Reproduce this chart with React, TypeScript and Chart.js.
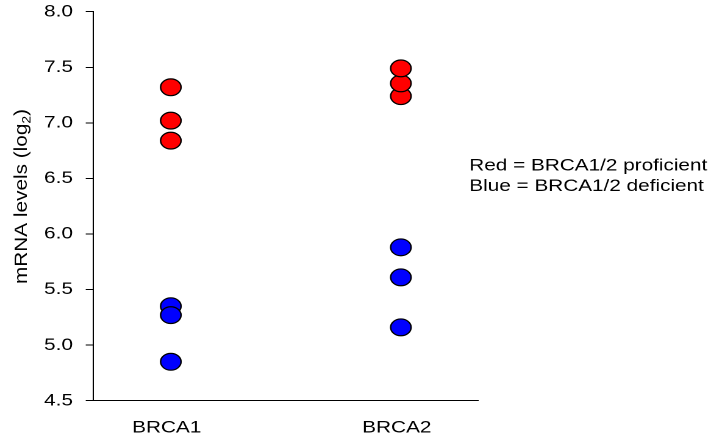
import React, { useEffect, useRef } from "react";
import { Chart, registerables } from "chart.js";

Chart.register(...registerables);

// ---- data ----
const categories = ["BRCA1", "BRCA2"];
const proficientBRCA1 = [7.32, 7.02, 6.84];
const proficientBRCA2 = [7.24, 7.355, 7.49];
const deficientBRCA1 = [5.35, 5.27, 4.85];
const deficientBRCA2 = [5.88, 5.61, 5.16];
const yMin = 4.5;
const yMax = 8.0;
const yStep = 0.5;
const yTitleMain = "mRNA levels (log";
const yTitleSub = "2";
const yTitleEnd = ")";
const legendLines = ["Red = BRCA1/2 proficient", "Blue = BRCA1/2 deficient"];

// ---- layout (internal canvas units; the canvas is stretched horizontally) ----
const OUT_W = 711;
const OUT_H = 444;
const IN_W = 583;
const STRETCH = OUT_W / IN_W;
const FONT = '"Liberation Sans", Arial, sans-serif';

const toPoints = (xIndex: number, values: number[]) =>
  values.map((v) => ({ x: xIndex + 1, y: v }));

const overlayPlugin = {
  id: "overlayText",
  afterDraw(chart: any) {
    const ctx = chart.ctx as CanvasRenderingContext2D;
    ctx.save();
    ctx.fillStyle = "#000";
    // legend text
    ctx.font = `17px ${FONT}`;
    ctx.textAlign = "left";
    ctx.textBaseline = "alphabetic";
    ctx.fillText(legendLines[0], 384.8, 170.7);
    ctx.fillText(legendLines[1], 384.8, 191);
    ctx.restore();

    // y axis title, rotated
    ctx.save();
    const mainFont = `15px ${FONT}`;
    const subFont = `10px ${FONT}`;
    ctx.font = mainFont;
    const w1 = ctx.measureText(yTitleMain).width;
    const w3 = ctx.measureText(yTitleEnd).width;
    ctx.font = subFont;
    const w2 = ctx.measureText(yTitleSub).width;
    const total = w1 + w2 + w3;
    const targetLen = 175;
    const k = targetLen / total;
    ctx.translate(21.9, 196.5);
    ctx.rotate(-Math.PI / 2);
    ctx.scale(k, 1);
    ctx.fillStyle = "#000";
    ctx.textAlign = "left";
    ctx.textBaseline = "alphabetic";
    let x = -total / 2;
    ctx.font = mainFont;
    ctx.fillText(yTitleMain, x, 0);
    x += w1;
    ctx.font = subFont;
    ctx.fillText(yTitleSub, x, 3);
    x += w2;
    ctx.font = mainFont;
    ctx.fillText(yTitleEnd, x, 0);
    ctx.restore();
  },
};

export default function App() {
  const canvasRef = useRef<HTMLCanvasElement | null>(null);

  useEffect(() => {
    if (!canvasRef.current) return;
    const pointStyle = {
      pointRadius: 8.4,
      pointHoverRadius: 8.4,
      pointBorderColor: "#000",
      pointBorderWidth: 1.2,
      showLine: false,
    };
    const chart = new Chart(canvasRef.current, {
      type: "scatter",
      data: {
        datasets: [
          {
            label: "Proficient",
            data: [
              ...toPoints(0, proficientBRCA1),
              ...toPoints(1, proficientBRCA2),
            ],
            backgroundColor: "#FF0000",
            pointBackgroundColor: "#FF0000",
            ...pointStyle,
          },
          {
            label: "Deficient",
            data: [
              ...toPoints(0, deficientBRCA1),
              ...toPoints(1, deficientBRCA2),
            ],
            backgroundColor: "#0000FF",
            pointBackgroundColor: "#0000FF",
            ...pointStyle,
          },
        ],
      },
      options: {
        animation: false,
        responsive: false,
        devicePixelRatio: 2,
        layout: {
          autoPadding: false,
          padding: { top: 11.7, right: IN_W - 391.9, left: 0, bottom: 0 },
        },
        plugins: {
          legend: { display: false },
          tooltip: { enabled: false },
          title: { display: false },
        },
        scales: {
          x: {
            type: "linear",
            min: 0.662,
            max: 2.335,
            afterBuildTicks: (scale: any) => {
              scale.ticks = categories.map((_, i) => ({ value: i + 1 }));
            },
            afterFit: (scale: any) => {
              scale.height = OUT_H - 400.7;
              scale.paddingLeft = 0;
              scale.paddingRight = 0;
            },
            ticks: {
              autoSkip: false,
              maxRotation: 0,
              padding: 8.8,
              labelOffset: -3.3,
              color: "#000",
              font: { family: FONT, size: 17 },
              callback: (value: any) => categories[Number(value) - 1] ?? "",
            },
            grid: { display: false },
            border: { display: true, color: "#000", width: 1 },
          },
          y: {
            type: "linear",
            min: yMin,
            max: yMax,
            afterFit: (scale: any) => {
              scale.width = 76.3;
              scale.paddingTop = 0;
              scale.paddingBottom = 0;
            },
            ticks: {
              stepSize: yStep,
              padding: 10.5,
              color: "#000",
              font: { family: FONT, size: 17 },
              callback: (value: any) => Number(value).toFixed(1),
            },
            grid: {
              display: true,
              drawOnChartArea: false,
              drawTicks: true,
              tickLength: 6,
              color: "#000",
              lineWidth: 1,
            },
            border: { display: true, color: "#000", width: 1 },
            title: { display: false },
          },
        },
      },
      plugins: [overlayPlugin],
    });
    return () => chart.destroy();
  }, []);

  return (
    <div
      style={{
        position: "fixed",
        left: 0,
        top: 0,
        width: OUT_W,
        height: OUT_H,
        overflow: "hidden",
        background: "#fff",
      }}
    >
      <div
        style={{
          width: IN_W,
          height: OUT_H,
          transform: `scaleX(${STRETCH})`,
          transformOrigin: "0 0",
        }}
      >
        <canvas ref={canvasRef} width={IN_W} height={OUT_H} />
      </div>
    </div>
  );
}
